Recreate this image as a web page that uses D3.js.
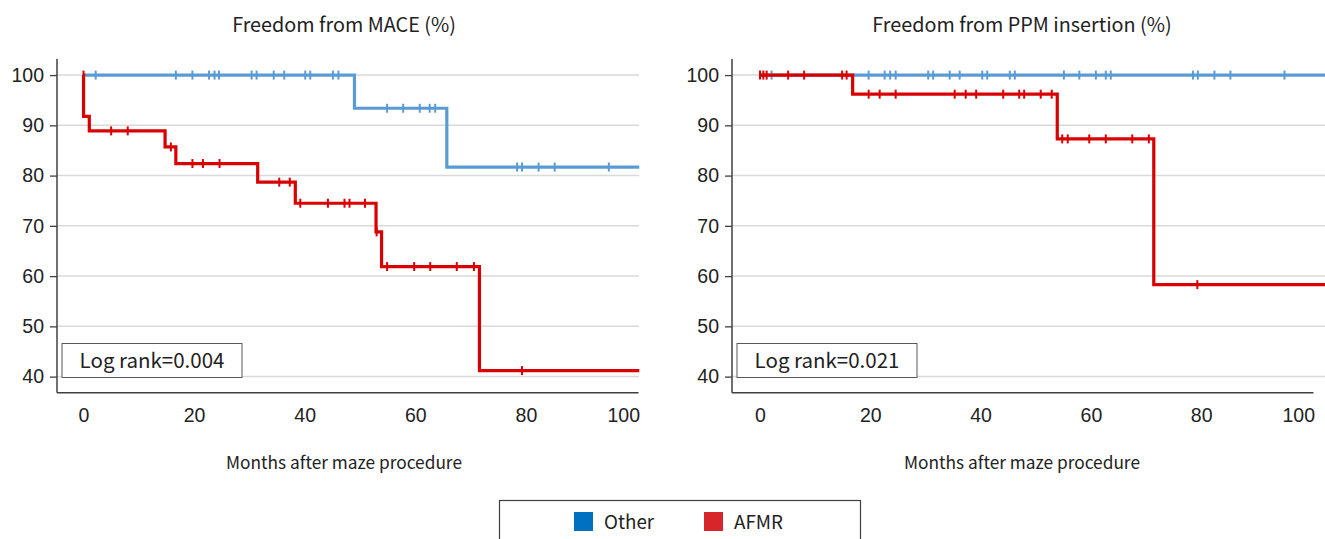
<!DOCTYPE html>
<html>
<head>
<meta charset="utf-8">
<script src="https://cdn.jsdelivr.net/npm/d3@7"></script>
<style>
  body { margin: 0; background: #fff; }
  svg { display: block; font-family: "Noto Sans CJK KR", "Noto Sans", sans-serif; }
</style>
</head>
<body>
<div id="chart"></div>
<script>
// ---- data (months, survival %) ----
const yTicks = [40, 50, 60, 70, 80, 90, 100];
const xTicks = [0, 20, 40, 60, 80, 100];
const seriesNames = ["Other", "AFMR"];

// MACE panel
const maceOtherSteps = [{t: 0, s: 100}, {t: 49.0, s: 93.4}, {t: 65.7, s: 81.7}];
const maceOtherCensor = [2.2, 16.7, 19.7, 22.7, 23.7, 24.5, 30.4, 31.3, 34.4, 36.3, 40.1, 41.0, 45.1, 46.1,
                         54.9, 57.8, 60.8, 62.6, 63.6, 78.4, 79.3, 82.3, 85.2, 95.0];
const maceAfmrSteps = [{t: 0, s: 100}, {t: 0.01, s: 91.8}, {t: 1.05, s: 88.9}, {t: 14.75, s: 85.7},
                       {t: 16.7, s: 82.4}, {t: 31.5, s: 78.7}, {t: 38.3, s: 74.5}, {t: 52.9, s: 68.8},
                       {t: 53.9, s: 61.9}, {t: 71.6, s: 41.2}];
const maceAfmrCensor = [0, 5.0, 8.0, 15.8, 19.7, 21.6, 24.6, 35.4, 37.3, 39.2, 44.2, 47.2, 48.1, 50.9,
                        53.0, 54.9, 59.8, 62.7, 67.5, 70.6, 79.3];
const maceLogRank = "Log rank=0.004";

// PPM panel
const ppmOtherSteps = [{t: 0, s: 100}];
const ppmOtherCensor = [2.1, 19.7, 22.6, 23.6, 24.6, 30.5, 31.4, 34.4, 36.2, 40.3, 41.2, 45.3, 46.2,
                        55.1, 57.9, 60.9, 62.7, 63.6, 78.5, 79.4, 82.4, 85.3, 95.1];
const ppmAfmrSteps = [{t: 0, s: 100}, {t: 16.8, s: 96.2}, {t: 53.9, s: 87.3}, {t: 71.4, s: 58.3}];
const ppmAfmrCensor = [0, 0.6, 1.2, 5.1, 8.0, 14.9, 15.7, 19.7, 21.7, 24.6, 35.3, 37.3, 39.2, 44.1,
                       47.0, 47.9, 50.9, 52.9, 54.8, 55.8, 59.7, 62.7, 67.5, 70.5, 79.3];
const ppmLogRank = "Log rank=0.021";

const width = 1325, height = 539;
const lineColors = {Other: "#5b9bd5", AFMR: "#d90000"};
const legendColors = {Other: "#0070c0", AFMR: "#d7262b"};

const svg = d3.select("#chart").append("svg")
    .attr("width", width)
    .attr("height", height);

/*
    draws one Kaplan-Meier panel
*/
function drawPanel(p) {
    const x = d3.scaleLinear().domain([0, 100]).range([p.x0, p.x100]);
    const y = d3.scaleLinear().domain([36.8, 103.2]).range([392.7, 59]);
    const g = svg.append("g");

    // gridlines
    g.append("g")
     .selectAll("line")
     .data(yTicks)
     .join("line")
      .attr("x1", p.axisX).attr("x2", p.gridEnd)
      .attr("y1", d => y(d)).attr("y2", d => y(d))
      .attr("stroke", "#d9d9d9")
      .attr("stroke-width", 1.5);

    // y axis
    const ya = g.append("g")
        .attr("transform", `translate(${p.axisX},0)`)
        .call(d3.axisLeft(y).tickValues(yTicks).tickSize(7).tickPadding(6));
    ya.select(".domain").remove();
    ya.selectAll(".tick line").attr("stroke", "#404040").attr("stroke-width", 1.3);
    ya.selectAll(".tick text").attr("font-size", 19.5).attr("fill", "#222").attr("font-family", null);

    // x axis (no tick marks)
    const xa = g.append("g")
        .attr("transform", `translate(0,${y(36.8)})`)
        .call(d3.axisBottom(x).tickValues(xTicks).tickSize(0).tickPadding(15));
    xa.select(".domain").remove();
    xa.selectAll(".tick text").attr("font-size", 19.5).attr("fill", "#222").attr("font-family", null)
      .attr("text-anchor", d => d === 100 ? "end" : "middle")
      .attr("dx", d => d === 100 ? 3 : 0);

    g.append("line")
     .attr("x1", p.axisX).attr("x2", p.axisX)
     .attr("y1", y(103.2)).attr("y2", y(36.8))
     .attr("stroke", "#404040").attr("stroke-width", 1.5);
    g.append("line")
     .attr("x1", p.axisX).attr("x2", p.x100 + 2)
     .attr("y1", y(36.8)).attr("y2", y(36.8))
     .attr("stroke", "#404040").attr("stroke-width", 1.5);

    // log rank box
    g.append("rect")
     .attr("x", p.axisX + 5).attr("y", 343.5)
     .attr("width", 180).attr("height", 34)
     .attr("fill", "#fff").attr("stroke", "#595959").attr("stroke-width", 1);
    g.append("text")
     .attr("x", p.axisX + 95).attr("y", 368)
     .attr("text-anchor", "middle")
     .attr("font-size", 20.5).attr("fill", "#222")
     .text(p.logRank);

    // curves: Other first, AFMR on top
    const line = d3.line()
        .x(d => x(d.t))
        .y(d => y(d.s))
        .curve(d3.curveStepAfter);

    p.series.forEach(sr => {
        const pts = sr.steps.concat([{t: p.end, s: sr.steps[sr.steps.length - 1].s}]);
        g.append("path")
         .datum(pts)
         .attr("d", line)
         .attr("fill", "none")
         .attr("stroke", lineColors[sr.name])
         .attr("stroke-width", 3.2);

        // censor marks
        const survAt = t => {
            let s = sr.steps[0].s;
            sr.steps.forEach(st => { if (st.t <= t) s = st.s; });
            return s;
        };
        g.append("g")
         .selectAll("line")
         .data(sr.censor)
         .join("line")
          .attr("x1", d => x(d)).attr("x2", d => x(d))
          .attr("y1", d => y(survAt(d)) - 4.5).attr("y2", d => y(survAt(d)) + 4.5)
          .attr("stroke", lineColors[sr.name])
          .attr("stroke-width", 2);
    });

    // titles
    g.append("text")
     .attr("x", p.titleX).attr("y", 32)
     .attr("text-anchor", "middle")
     .attr("font-size", 19.8).attr("fill", "#222")
     .text(p.title);
    g.append("text")
     .attr("x", p.titleX).attr("y", 469)
     .attr("text-anchor", "middle")
     .attr("font-size", 17.3).attr("fill", "#222")
     .text("Months after maze procedure");
}

drawPanel({
    title: "Freedom from MACE (%)", titleX: 344,
    axisX: 57, x0: 83.5, x100: 636.5, gridEnd: 639, end: 100.5,
    logRank: maceLogRank,
    series: [
        {name: "Other", steps: maceOtherSteps, censor: maceOtherCensor},
        {name: "AFMR", steps: maceAfmrSteps, censor: maceAfmrCensor}
    ]
});

drawPanel({
    title: "Freedom from PPM insertion (%)", titleX: 1022,
    axisX: 732, x0: 760, x100: 1311.5, gridEnd: 1325, end: 103,
    logRank: ppmLogRank,
    series: [
        {name: "Other", steps: ppmOtherSteps, censor: ppmOtherCensor},
        {name: "AFMR", steps: ppmAfmrSteps, censor: ppmAfmrCensor}
    ]
});

// legend
const legend = svg.append("g");
legend.append("rect")
      .attr("x", 499.5).attr("y", 500.5)
      .attr("width", 361).attr("height", 60)
      .attr("fill", "#fff").attr("stroke", "#404040").attr("stroke-width", 1.2);

const legendX = d3.scalePoint().domain(seriesNames).range([574, 704]);
const item = legend.selectAll("g.item")
    .data(seriesNames)
    .join("g")
    .attr("class", "item")
    .attr("transform", d => `translate(${legendX(d)},512)`);
item.append("rect")
    .attr("width", 19).attr("height", 19)
    .attr("fill", d => legendColors[d]);
item.append("text")
    .attr("x", 30).attr("y", 16.5)
    .attr("font-size", 18.8).attr("fill", "#222")
    .text(d => d);
</script>
</body>
</html>
